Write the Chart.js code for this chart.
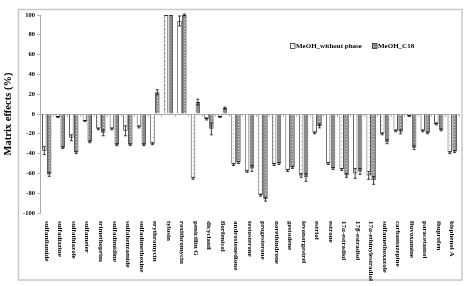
<!DOCTYPE html>
<html>
<head>
<meta charset="utf-8">
<script src="https://cdn.jsdelivr.net/npm/chart.js@4/dist/chart.umd.min.js"></script>
<style>
html,body{margin:0;padding:0;background:#fff;}
canvas{display:block;}
</style>
</head>
<body>
<canvas id="c" width="470" height="286"></canvas>
<script>
const categories = ["sulfanilamide","sulfadiazine","sulfathiazole","sulfameter","trimethoprim","sulfadimidine","sulfabenzamide","sulfadimethoxine","erythromycin","tylosin","roxithromycin","penicillin G","dicyclanil","florfenicol","androstenedione","testosterone","progesterone","norethindrone","gestodene","levonorgestrel","estriol","estrone","17α-estradiol","17β-estradiol","17α-ethinylestradiol","sulfamethoxazole","carbamazepine","fluvoxamine","paracetamol","ibuprofen","bisphenol A"];
const seriesNames = ["MeOH_without phase","MeOH_C18"];
const withoutPhase = [-37,-3,-24,-7,-15,-15,-17,-13,-30,100,94,-65,-5,-3,-51,-58,-82,-51,-57,-62,-19,-50,-56,-60,-62,-20,-17,-2,-17,-10,-39];
const c18 = [-61,-34,-39,-28,-19,-31,-31,-31,22,100,100,12,-15,6,-49,-55,-86,-50,-54,-64,-12,-55,-62,-58,-67,-28,-18,-34,-19,-16,-38];
const withoutPhaseErr = [4,0.5,3,0.5,1,1,5,1,1,0,5,1,1,0.5,1,1,1,1,1,2,1,1,1,5,4,1,1,0.5,1,1,1];
const c18Err = [2,1,1,1,3,1,1,1,2.5,0,1,3,6,1,1,3,2,1,1,4,2,1,2,3,4,2,2,2,1,1,1];
const yMin = -100, yMax = 100, yStep = 20;

function makePattern(bg, dot, w, h) {
  const c = document.createElement('canvas');
  c.width = w; c.height = h;
  const g = c.getContext('2d');
  g.fillStyle = bg; g.fillRect(0, 0, w, h);
  g.fillStyle = dot; g.fillRect(1, 1, 1, 1);
  return document.getElementById('c').getContext('2d').createPattern(c, 'repeat');
}
const whiteFill = makePattern('#ffffff', '#b8b8b8', 4, 4);
const hatchFill = makePattern('#8a8a8a', '#d8d8d8', 3, 3);

const serif = '"Liberation Serif", "DejaVu Serif", serif';

const extras = {
  id: 'extras',
  beforeDraw(chart) {
    const ctx = chart.ctx;
    ctx.save();
    ctx.strokeStyle = '#c8c8c8';
    ctx.lineWidth = 1.5;
    ctx.strokeRect(18.5, 9.5, 443.5, 270.5);
    ctx.restore();
  },
  afterDatasetsDraw(chart) {
    const ctx = chart.ctx;
    const ys = chart.scales.y;
    const area = chart.chartArea;
    const errs = [withoutPhaseErr, c18Err];
    const vals = [withoutPhase, c18];
    ctx.save();
    ctx.beginPath();
    ctx.rect(area.left, area.top - 2, area.right - area.left, area.bottom - area.top + 4);
    ctx.clip();
    ctx.strokeStyle = '#111';
    ctx.lineWidth = 0.8;
    for (let d = 0; d < 2; d++) {
      const meta = chart.getDatasetMeta(d);
      meta.data.forEach((bar, i) => {
        const e = errs[d][i];
        if (!e) return;
        const v = vals[d][i];
        const y1 = ys.getPixelForValue(v - e);
        const y2 = ys.getPixelForValue(v + e);
        ctx.beginPath();
        ctx.moveTo(bar.x, y1); ctx.lineTo(bar.x, y2);
        ctx.moveTo(bar.x - 1.5, y1); ctx.lineTo(bar.x + 1.5, y1);
        ctx.moveTo(bar.x - 1.5, y2); ctx.lineTo(bar.x + 1.5, y2);
        ctx.stroke();
      });
    }
    ctx.restore();
  },
  afterDraw(chart) {
    const ctx = chart.ctx;
    const xs = chart.scales.x;
    ctx.save();
    // category labels, rotated clockwise
    ctx.fillStyle = '#000';
    ctx.font = 'bold 7px ' + serif;
    ctx.textAlign = 'left';
    ctx.textBaseline = 'middle';
    categories.forEach((lab, i) => {
      const x = xs.getPixelForValue(i);
      ctx.save();
      ctx.translate(x, 221);
      ctx.rotate(Math.PI / 2);
      ctx.fillText(lab, 0, 0);
      ctx.restore();
    });
    // y title
    ctx.save();
    ctx.translate(8, 114);
    ctx.rotate(-Math.PI / 2);
    ctx.font = 'bold 10.5px ' + serif;
    ctx.textAlign = 'center';
    ctx.textBaseline = 'middle';
    ctx.fillText('Matrix effects (%)', 0, 0);
    ctx.restore();
    // legend
    ctx.font = 'bold 7px ' + serif;
    ctx.textAlign = 'left';
    ctx.textBaseline = 'middle';
    const ly = 46;
    const fills = [whiteFill, hatchFill];
    const lx = [290, 372];
    for (let d = 0; d < 2; d++) {
      ctx.fillStyle = fills[d];
      ctx.fillRect(lx[d], ly - 2.5, 5, 5);
      ctx.strokeStyle = '#333';
      ctx.lineWidth = 0.8;
      ctx.strokeRect(lx[d] + 0.5, ly - 2.5, 4.5, 5);
      ctx.fillStyle = '#000';
      ctx.fillText(seriesNames[d], lx[d] + 6, ly + 0.5);
    }
    ctx.restore();
  }
};

new Chart(document.getElementById('c'), {
  type: 'bar',
  data: {
    labels: categories,
    datasets: [
      { label: seriesNames[0], data: withoutPhase, backgroundColor: whiteFill, borderColor: '#333', borderWidth: 0.9, categoryPercentage: 0.72, barPercentage: 0.92 },
      { label: seriesNames[1], data: c18, backgroundColor: hatchFill, borderColor: '#3a3a3a', borderWidth: 0.9, categoryPercentage: 0.72, barPercentage: 0.92 }
    ]
  },
  options: {
    responsive: false,
    animation: false,
    devicePixelRatio: 1,
    layout: { padding: { left: 18, right: 11, top: 15, bottom: 73 } },
    plugins: { legend: { display: false }, tooltip: { enabled: false } },
    scales: {
      x: {
        type: 'category',
        position: { y: 0 },
        ticks: { display: false },
        grid: { display: true, drawOnChartArea: false, drawTicks: true, tickLength: 2, offset: true, color: '#aaa', lineWidth: 0.8 },
        border: { display: true, color: '#aaa', width: 1 }
      },
      y: {
        position: 'left',
        min: yMin, max: yMax,
        afterFit(s) { s.width = 22; },
        ticks: { stepSize: yStep, color: '#000', font: { family: serif, size: 6.5, weight: 'bold' }, padding: 2 },
        grid: { display: true, drawOnChartArea: false, drawTicks: true, tickLength: 3, color: '#aaa', lineWidth: 0.8 },
        border: { display: true, color: '#aaa', width: 1 }
      }
    }
  },
  plugins: [extras]
});
</script>
</body>
</html>
